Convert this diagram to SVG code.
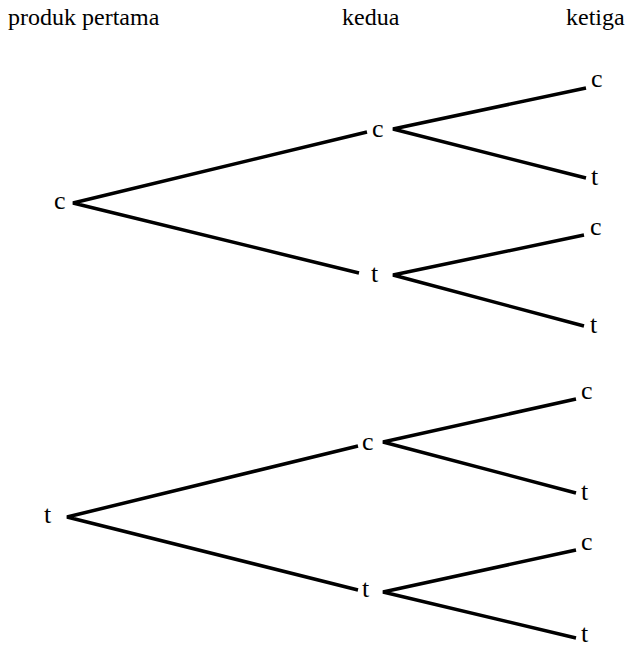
<svg xmlns="http://www.w3.org/2000/svg" width="635" height="647" viewBox="0 0 635 647">
<style>
.hd{font-size:24px;fill:#000}
.lb{font-size:26px;fill:#000}
.ln{stroke:#000;stroke-width:3.5;fill:none;stroke-linecap:butt;stroke-linejoin:miter}
</style>
<rect width="635" height="647" fill="#fff"/>
<g font-family="Liberation Serif, Times New Roman, serif">
<g id="headers">
<text class="hd" x="8" y="25">produk pertama</text>
<text class="hd" x="342" y="25">kedua</text>
<text class="hd" x="566" y="25">ketiga</text>
</g>
<g id="connectors" class="ln">
<polyline points="367,132 73,203 359,273"/>
<polyline points="586,88 393,129 586,178"/>
<polyline points="584,235 393,275 584,326"/>
<polyline points="358,446 67,517 358,590"/>
<polyline points="576,399 383,442 576,493"/>
<polyline points="576,550 383,592 576,638"/>
</g>
<g id="n-root-c"><text class="lb" x="54" y="209">c</text></g>
<g id="n-c-c"><text class="lb" x="372" y="137">c</text></g>
<g id="n-c-t"><text class="lb" x="371" y="282">t</text></g>
<g id="n-c-c-c"><text class="lb" x="591" y="87">c</text></g>
<g id="n-c-c-t"><text class="lb" x="591" y="185">t</text></g>
<g id="n-c-t-c"><text class="lb" x="590" y="235">c</text></g>
<g id="n-c-t-t"><text class="lb" x="590" y="333">t</text></g>
<g id="n-root-t"><text class="lb" x="44" y="523">t</text></g>
<g id="n-t-c"><text class="lb" x="362" y="450">c</text></g>
<g id="n-t-t"><text class="lb" x="362" y="597">t</text></g>
<g id="n-t-c-c"><text class="lb" x="581" y="399">c</text></g>
<g id="n-t-c-t"><text class="lb" x="581" y="500">t</text></g>
<g id="n-t-t-c"><text class="lb" x="581" y="550">c</text></g>
<g id="n-t-t-t"><text class="lb" x="581" y="642">t</text></g>
</g>
</svg>
